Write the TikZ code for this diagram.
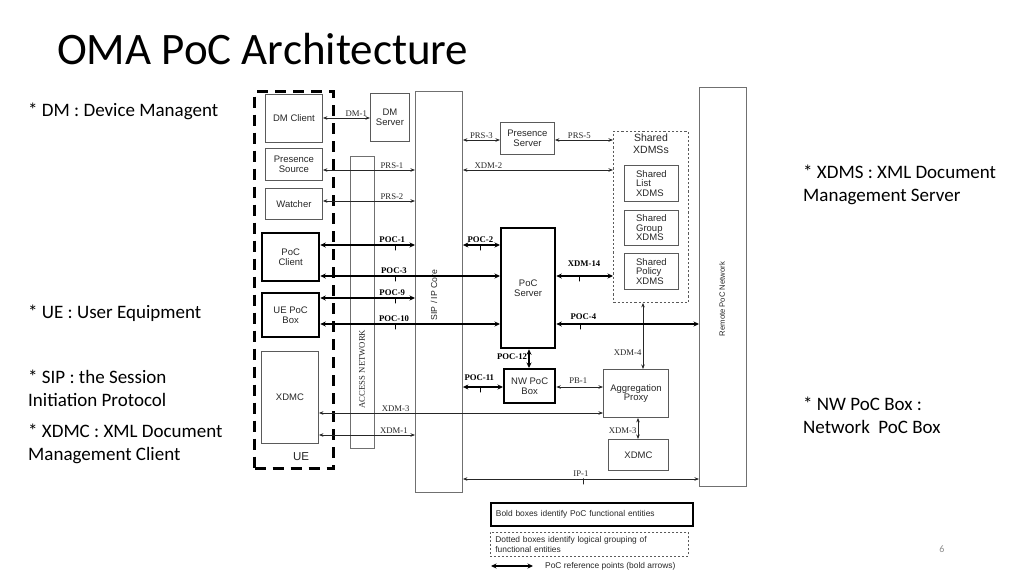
\documentclass[tikz,border=0pt]{standalone}
\usepackage{fontspec}
\setmainfont{Carlito}
\newfontfamily\arialf{Liberation Sans}
\newfontfamily\timesf{Liberation Serif}
\usetikzlibrary{arrows.meta}
\definecolor{boxgray}{HTML}{5A5A5A}
\definecolor{colgray}{HTML}{707070}
\definecolor{txt}{HTML}{262626}
\definecolor{pgnum}{HTML}{8C8C8C}
\begin{document}
\begin{tikzpicture}[x=1pt,y=-1pt,
  box/.style={draw=boxgray, line width=0.9pt, inner sep=0pt, align=center, anchor=north west, text=txt, font=\arialf\fontsize{9.5}{9.6}\selectfont},
  bbox/.style={box, draw=black, line width=2.3pt},
  colbox/.style={draw=colgray, line width=0.9pt, inner sep=0pt, anchor=north west},
  ref/.style={draw=black!85, line width=0.75pt, {Stealth[length=4.5pt,width=3.5pt]}-{Stealth[length=4.5pt,width=3.5pt]}},
  bref/.style={draw=black, line width=1.6pt, {Stealth[length=5.5pt,width=5pt]}-{Stealth[length=5.5pt,width=5pt]}},
  lbl/.style={font=\timesf\fontsize{8.7}{9}\selectfont, inner sep=1.2pt, text=txt},
  blbl/.style={font=\timesf\bfseries\fontsize{8.7}{9}\selectfont, inner sep=1.2pt, text=black},
  tickmark/.style={draw=black, line width=0.8pt, minimum width=0pt, minimum height=6pt, inner sep=0pt, anchor=north, yshift=1pt, shape=rectangle},
  note/.style={font=\fontsize{19}{22}\selectfont, anchor=base west, inner sep=0pt, text=black},
  legtxt/.style={font=\arialf\fontsize{8.4}{9.5}\selectfont, text=txt},
]
\useasboundingbox (0,0) rectangle (1024,576);

% title and side notes
\node[font=\fontsize{45}{48}\selectfont, anchor=base west, inner sep=0pt] (title) at (57,64) {OMA PoC Architecture};
\node[note] (n1) at (28,116.5) {* DM : Device Managent};
\node[note] (n2) at (28,318) {* UE : User Equipment};
\node[note] (n3) at (28,383) {* SIP : the Session};
\node[note] (n3b) at (28,406) {Initiation Protocol};
\node[note] (n4) at (28,437) {* XDMC : XML Document};
\node[note] (n4b) at (28,460) {Management Client};
\node[note] (n5) at (803,178) {* XDMS : XML Document};
\node[note] (n5b) at (803,201) {Management Server};
\node[note] (n6) at (803,410) {* NW PoC Box :};
\node[note] (n6b) at (803,433) {Network\ \ PoC Box};
\node[font=\fontsize{10}{12}\selectfont, text=pgnum] (pg) at (942,549) {6};

% columns
\node[colbox, minimum width=47pt, minimum height=401pt] (sip) at (415,91) {};
\node[rotate=90, font=\arialf\fontsize{8.7}{9}\selectfont, text=txt] (siplbl) at (434,295) {SIP / IP Core};
\node[colbox, minimum width=24pt, minimum height=292pt] (acc) at (350,156) {};
\node[rotate=90, font=\timesf\fontsize{8.7}{9}\selectfont, text=txt] (acclbl) at (362,369) {ACCESS NETWORK};
\node[colbox, minimum width=47pt, minimum height=399pt] (rem) at (699,87) {};
\node[rotate=90, font=\arialf\fontsize{7.7}{8}\selectfont, text=txt] (remlbl) at (722,299) {Remote PoC Network};

% UE group
\node[draw=black, line width=3pt, dash pattern=on 11pt off 7pt, inner sep=0pt, anchor=north west, minimum width=79pt, minimum height=377pt] (ue) at (253,90) {};
\node[font=\arialf\fontsize{11.5}{12}\selectfont, text=txt] (uelbl) at (301,457) {UE};

% UE side boxes
\node[box, minimum width=57pt, minimum height=48pt] (dmc) at (265,94) {DM Client};
\node[box, minimum width=57pt, minimum height=32pt] (ps) at (265,148) {Presence\\Source};
\node[box, minimum width=57pt, minimum height=31pt] (wat) at (265,188) {Watcher};
\node[bbox, minimum width=57pt, minimum height=48pt] (pocc) at (261,232) {PoC\\Client};
\node[bbox, minimum width=57pt, minimum height=44pt] (uepb) at (261,292) {UE PoC\\Box};
\node[box, minimum width=57pt, minimum height=92pt] (xdmc) at (261,351) {XDMC};

% network side boxes
\node[box, minimum width=39pt, minimum height=48pt] (dms) at (370,93) {DM\\Server};
\node[box, minimum width=54pt, minimum height=32pt] (pres) at (500,122) {Presence\\Server};
\node[draw=boxgray, line width=0.9pt, dash pattern=on 2.2pt off 2pt, inner sep=0pt, anchor=north west, minimum width=75pt, minimum height=171pt,
  label={[anchor=north, align=center, inner sep=3pt, font=\arialf\fontsize{10.5}{11.5}\selectfont, text=txt]north:Shared\\XDMSs}] (sx) at (613,131) {};
\node[box, align=left, minimum width=54pt, minimum height=36pt] (slist) at (624,165) {Shared\\List\\XDMS};
\node[box, align=left, minimum width=54pt, minimum height=35pt] (sgrp) at (624,210) {Shared\\Group\\XDMS};
\node[box, align=left, minimum width=54pt, minimum height=36pt] (spol) at (624,253) {Shared\\Policy\\XDMS};
\node[bbox, minimum width=54pt, minimum height=120pt] (pocs) at (500,227) {PoC\\Server};
\node[bbox, minimum width=51pt, minimum height=34pt] (nwpb) at (503,368) {NW PoC\\Box};
\node[box, minimum width=65pt, minimum height=48pt] (agg) at (603,369) {Aggregation\\Proxy};
\node[box, minimum width=60pt, minimum height=31pt] (xdmc2) at (608,439) {XDMC};

% reference points, thin
\draw[ref] (dmc.east |- 0,118) -- node[lbl, pos=0.71, anchor=south] {DM-1} (dms.west |- 0,118);
\draw[ref] (ps.east |- 0,170) -- node[lbl, pos=0.75, anchor=south] {PRS-1} (sip.west |- 0,170);
\draw[ref] (wat.east |- 0,201) -- node[lbl, pos=0.75, anchor=south] {PRS-2} (sip.west |- 0,201);
\draw[ref] (sip.east |- 0,140) -- node[lbl, pos=0.5, anchor=south] {PRS-3} (pres.west |- 0,140);
\draw[ref] (pres.east |- 0,140) -- node[lbl, pos=0.42, anchor=south] {PRS-5} (sx.west |- 0,140);
\draw[ref] (sip.east |- 0,170) -- node[lbl, pos=0.17, anchor=south] {XDM-2} (sx.west |- 0,170);
\draw[ref] (xdmc.east |- 0,413) -- node[lbl, pos=0.27, anchor=south] {XDM-3} (agg.west |- 0,413);
\draw[ref] (xdmc.east |- 0,435) -- node[lbl, pos=0.78, anchor=south] {XDM-1} (sip.west |- 0,435);
\draw[ref] (nwpb.east |- 0,387) -- node[lbl, pos=0.47, anchor=south, yshift=2pt] {PB-1} (agg.west |- 0,387);
\draw[ref] (sx.south -| 643,0) -- node[lbl, pos=0.75, anchor=east] {XDM-4} (agg.north -| 643,0);
\draw[ref] (agg.south -| 638,0) -- node[lbl, pos=0.62, anchor=east] {XDM-3} (xdmc2.north -| 638,0);
\draw[ref] (sip.east |- 0,479) -- node[lbl, pos=0.5, anchor=south, yshift=1pt] {IP-1} node[tickmark, pos=0.51, draw=black!85] {} (rem.west |- 0,479);

% reference points, bold
\draw[bref] (pocc.east |- 0,245) -- node[blbl, pos=0.76, anchor=south] {POC-1} node[tickmark, pos=0.79] {} (sip.west |- 0,245);
\draw[bref] (pocc.east |- 0,276) -- node[blbl, pos=0.41, anchor=south] {POC-3} node[tickmark, pos=0.42] {} (pocs.west |- 0,276);
\draw[bref] (uepb.east |- 0,298) -- node[blbl, pos=0.76, anchor=south] {POC-9} node[tickmark, pos=0.79] {} (sip.west |- 0,298);
\draw[bref] (uepb.east |- 0,324) -- node[blbl, pos=0.41, anchor=south] {POC-10} node[tickmark, pos=0.42] {} (pocs.west |- 0,324);
\draw[bref] (sip.east |- 0,245) -- node[blbl, pos=0.47, anchor=south] {POC-2} node[tickmark, pos=0.47] {} (pocs.west |- 0,245);
\draw[bref] (pocs.east |- 0,276) -- node[blbl, pos=0.49, anchor=south, yshift=7pt] {XDM-14} node[tickmark, pos=0.41] {} (sx.west |- 0,276);
\draw[bref] (pocs.east |- 0,324) -- node[blbl, pos=0.19, anchor=south, yshift=2pt] {POC-4} node[tickmark, pos=0.17] {} (rem.west |- 0,324);
\draw[bref] (pocs.south -| 529,0) -- node[blbl, anchor=east, pos=0.4] {POC-12} (nwpb.north -| 529,0);
\draw[bref] (sip.east |- 0,387) -- node[blbl, pos=0.41, anchor=south, yshift=4pt] {POC-11} node[tickmark, pos=0.44] {} (nwpb.west |- 0,387);

% legend
\node[draw=black, line width=1.8pt, anchor=north west, inner xsep=5pt, inner ysep=0pt, minimum height=23pt, text width=192pt, align=left, legtxt] (leg1) at (490,502) {Bold boxes identify PoC functional entities};
\node[draw=boxgray, line width=0.8pt, dash pattern=on 2pt off 2pt, anchor=north west, inner xsep=5pt, inner ysep=0pt, minimum height=24pt, text width=188pt, align=left, legtxt] (leg2) at (490,532) {Dotted boxes identify logical grouping of\\functional entities};
\coordinate (la) at (491,566);
\coordinate (lb) at (533,566);
\draw[bref] (la) -- (lb);
\node[legtxt, anchor=west, inner sep=0pt] (leg3) at (545,566) {PoC reference points (bold arrows)};
\end{tikzpicture}
\end{document}
